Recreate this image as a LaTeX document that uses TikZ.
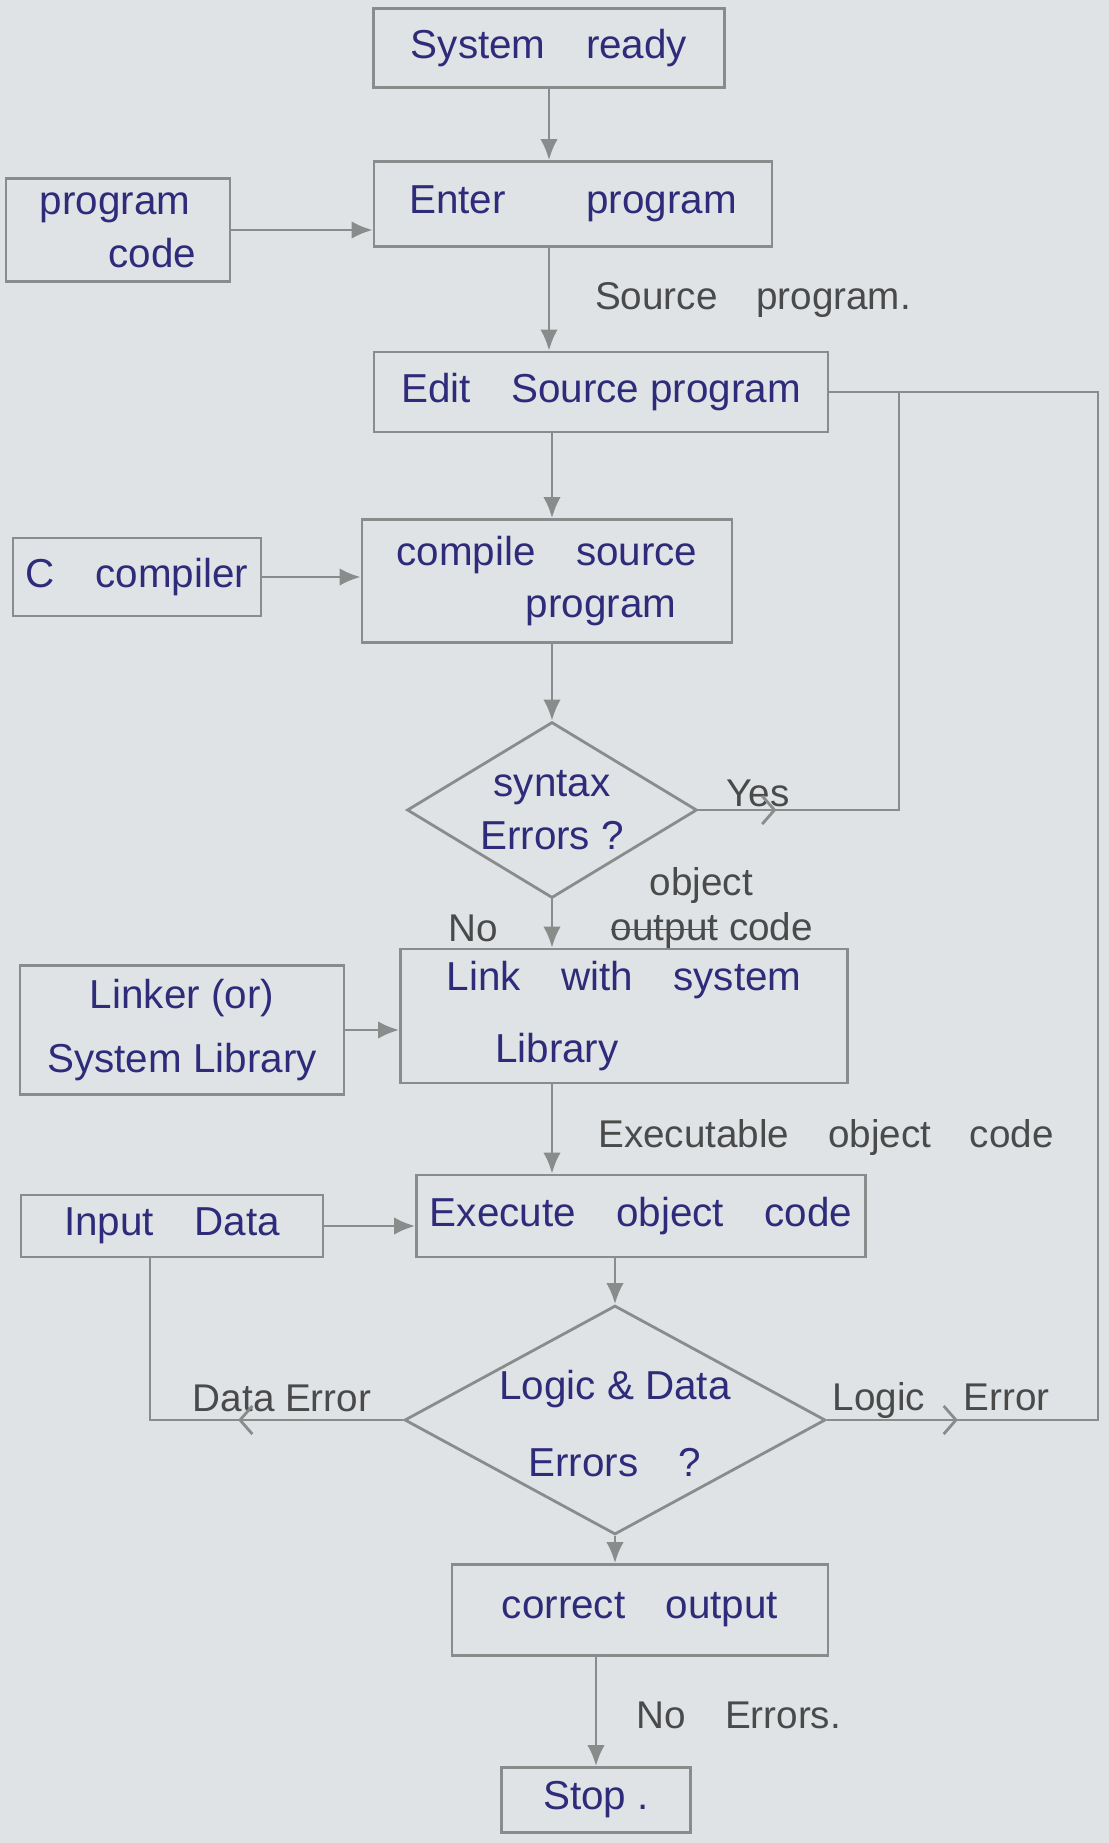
\documentclass[tikz,border=0pt]{standalone}
\usepackage{fontspec}
\setmainfont{Liberation Sans}
\usepackage{color}
\usetikzlibrary{shapes.geometric,arrows.meta,decorations.markings}
\definecolor{paper}{HTML}{DFE3E5}
\definecolor{pencil}{HTML}{8A8C8C}
\definecolor{ink}{HTML}{2E2C7A}
\definecolor{lead}{HTML}{4A4A4A}
\newcommand{\struck}[1]{\setbox0\hbox{#1}\rlap{\rule[0.28em]{\wd0}{0.7pt}}#1}

\begin{document}
\begin{tikzpicture}[x=0.02cm,y=-0.02cm,
  box/.style={draw=pencil,line width=1.6pt,rectangle,inner sep=2pt,text=ink,font=\fontsize{23}{30}\selectfont},
  decision/.style={box,diamond,inner sep=-6pt},
  note/.style={text=lead,font=\fontsize{22}{26}\selectfont},
  wire/.style={pencil,line width=1.6pt},
  flow/.style={wire,-{Latex[length=12pt,width=10pt]}},
  midtip/.style={postaction={decorate},decoration={markings,mark=at position #1 with {\arrow{Straight Barb[length=7pt,width=16pt]}}}}
]
\path[use as bounding box,fill=paper] (0,0) rectangle (1109,1843);

\node [box,minimum width=7.02cm,minimum height=1.58cm] (ready) at(549,48){System\quad ready};
\node [box,minimum width=7.96cm,minimum height=1.70cm] (enter) at(573,204){Enter\qquad program};
\node [box,minimum width=4.48cm,minimum height=2.06cm,align=left] (code) at(118,230){program\\\hspace*{1.7em}code};
\node [box,minimum width=9.08cm,minimum height=1.60cm] (edit) at(601,392){Edit\quad Source program};

\node [box,minimum width=7.40cm,minimum height=2.46cm,align=left] (compile) at(547,581){compile\quad source\\\hspace*{3.2em}program};
\node [box,minimum width=4.96cm,minimum height=1.56cm] (ccomp) at(137,577){C\quad compiler};
\node [decision,aspect=1.65,minimum width=5.8cm,minimum height=3.52cm,align=center] (syntax) at(552,810){syntax\\Errors ?};

\node [box,minimum width=8.94cm,minimum height=2.68cm,align=left] (link) at(624,1016){Link\quad with\quad system\\[0.5em]\hspace*{1.2em}Library};
\node [box,minimum width=6.48cm,minimum height=2.58cm,align=center] (linker) at(182,1030){Linker (or)\\[0.3em]System Library};
\node [box,minimum width=8.98cm,minimum height=1.64cm] (execute) at(641,1216){Execute\quad object\quad code};
\node [box,minimum width=6.04cm,minimum height=1.24cm] (input) at(172,1226){Input\quad Data};

\node [decision,aspect=1.84,minimum width=8.42cm,minimum height=4.58cm,align=center] (logic) at(615,1420){\\[-0.4em]Logic \& Data\\[0.6em]Errors\quad ?};
\node [box,minimum width=7.52cm,minimum height=1.82cm] (correct) at(640,1610){correct\quad output};
\node [box,minimum width=3.78cm,minimum height=1.30cm] (stop) at(596,1800){Stop .};

%labels on the lines
\node [note] (srclbl) at(753,300){Source\quad program.};
\node [note] (yeslbl) at(758,793){Yes};
\node [note] (nolbl) at(473,928){No};
\node [note,align=left] (objlbl) at(712,908){\hspace*{1em}object\\\struck{output} code};
\node [note] (exelbl) at(826,1137){Executable\quad object\quad code};
\node [note] (datalbl) at(282,1398){Data Error};
\node [note] (logiclbl) at(941,1400){Logic\quad Error};
\node [note] (okay) at(739,1715){No\quad Errors.};

\coordinate (inner) at(899,392);
\coordinate (outer) at(1098,392);
\coordinate (dataturn) at(150,1420);

\draw[flow](ready.south) -- (ready.south |- enter.north);
\draw[flow](enter.south -| ready.south) -- (edit.north -| ready.south);
\draw[flow](edit.south -| syntax.north) -- (compile.north -| syntax.north);
\draw[flow](compile.south -| syntax.north) -- (syntax.north);
\draw[flow](syntax.south) -- (syntax.south |- link.north);
\draw[flow](link.south -| syntax.south) -- (execute.north -| syntax.south);
\draw[flow](execute.south -| logic.north) -- (logic.north);
\draw[flow](logic.south) -- (logic.south |- correct.north);
\draw[flow](correct.south -| stop.north) -- (stop.north);

\draw[flow](code.east) -- (code.east -| enter.west);
\draw[flow](ccomp.east) -- (ccomp.east -| compile.west);
\draw[flow](linker.east) -- (linker.east -| link.west);
\draw[flow](input.east) -- (input.east -| execute.west);

%back to the editor
\draw[wire,midtip=1.56cm](syntax.east) -- (syntax.east -| inner) -- (inner);
\draw[wire,midtip=2.62cm](logic.east) -- (logic.east -| outer) -- (outer) -- (edit.east);
\draw[wire,midtip=3.3cm](logic.west) -- (logic.west -| dataturn) -- (dataturn |- input.south);

\end{tikzpicture}
\end{document}
